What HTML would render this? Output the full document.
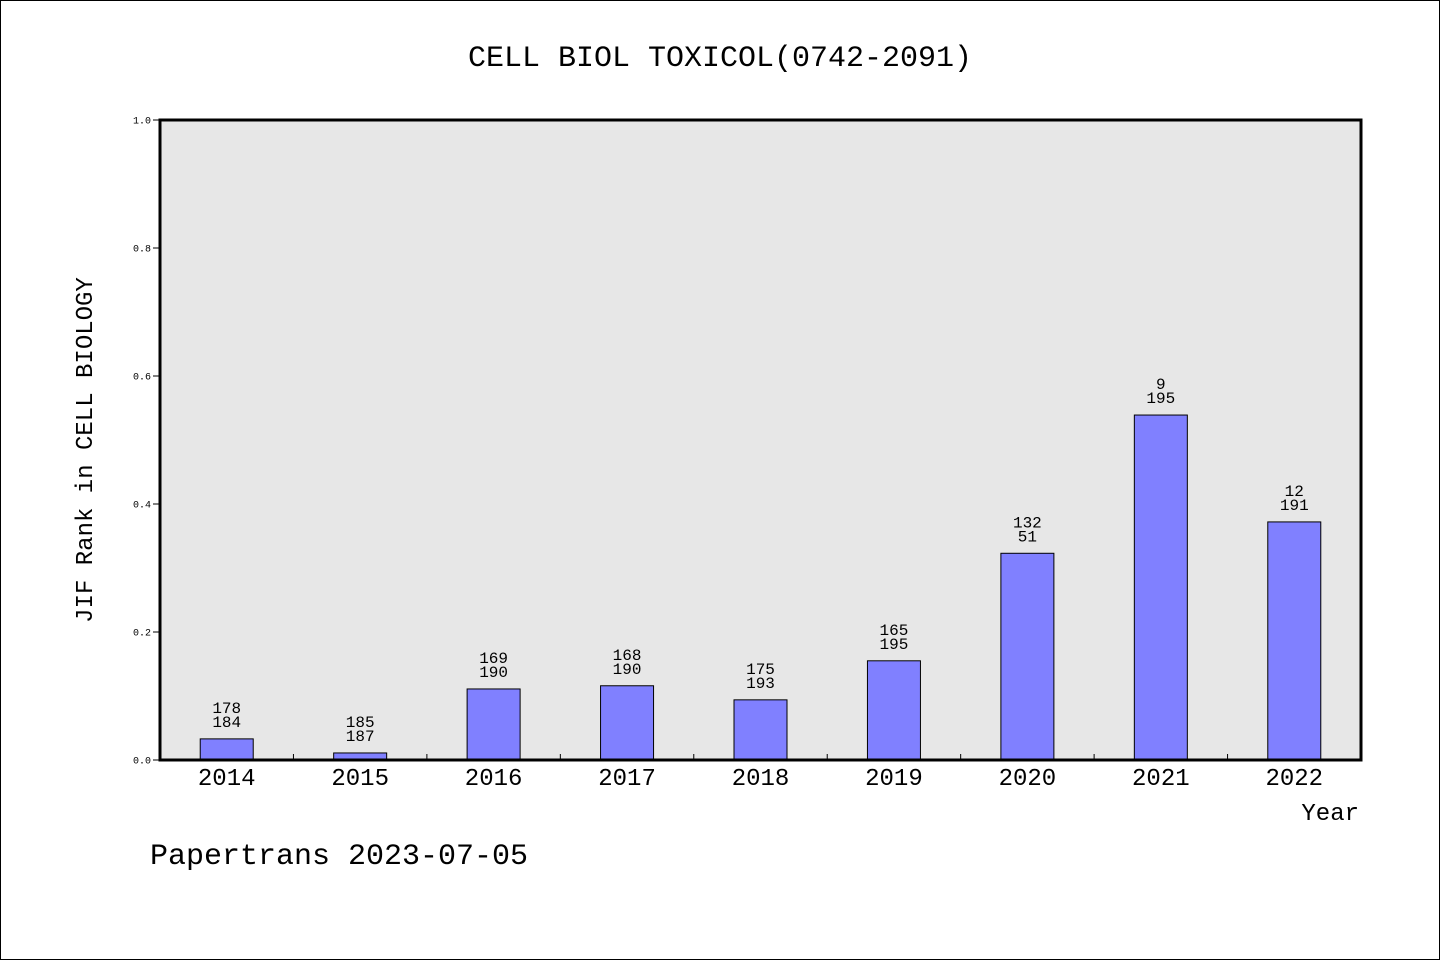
<!DOCTYPE html>
<html><head><meta charset="utf-8"><style>
body{margin:0;background:#fff}
svg text{font-family:"Liberation Mono","WenQuanYi Zen Hei",monospace;fill:#000}
</style></head><body>
<svg width="1440" height="960">
<rect x="0.5" y="0.5" width="1439" height="959" fill="#fff" stroke="#000"/>
<text x="720" y="66" font-size="30" text-anchor="middle">CELL BIOL TOXICOL(0742-2091)</text>
<rect x="160" y="120" width="1201" height="640" fill="#e7e7e7"/>
<g id="bars"></g>
<g id="axes"></g>
<rect x="160" y="120" width="1201" height="640" fill="none" stroke="#000" stroke-width="3"/>
<text x="92" y="450" font-size="24" text-anchor="middle" transform="rotate(-90 92 450)">JIF Rank in CELL BIOLOGY</text>
<text x="1359" y="820" font-size="24" text-anchor="end">Year</text>
<text x="150" y="864" font-size="30">Papertrans 2023-07-05</text>
</svg>
<script>
const years=["2014","2015","2016","2017","2018","2019","2020","2021","2022"];
const values=[0.033,0.011,0.111,0.116,0.094,0.155,0.323,0.539,0.372];
const rankTop=["178","185","169","168","175","165","132","9","12"];
const rankBottom=["184","187","190","190","193","195","51","195","191"];
const yTicks=[0,0.2,0.4,0.6,0.8,1.0];
const X0=160,X1=1361,Y0=760,Y1=120;
const step=(X1-X0)/years.length;
const xC=i=>X0+step*(i+0.5);
const yS=v=>Y0-(Y0-Y1)*v;
const NS="http://www.w3.org/2000/svg";
const bars=document.getElementById('bars'),axes=document.getElementById('axes');
function mk(tag,attrs,parent){const e=document.createElementNS(NS,tag);for(const k in attrs)e.setAttribute(k,attrs[k]);parent.appendChild(e);return e;}
years.forEach((y,i)=>{
 const r=mk('rect',{x:xC(i)-26.5,y:yS(values[i]),width:53,height:Y0-yS(values[i]),fill:'#8080ff',stroke:'#000','stroke-width':1},bars);
 
 
 const t1=mk('text',{x:xC(i),y:yS(values[i])-26,'font-size':16,'text-anchor':'middle'},bars);t1.textContent=rankTop[i];
 
 
 const t2=mk('text',{x:xC(i),y:yS(values[i])-12,'font-size':16,'text-anchor':'middle'},bars);t2.textContent=rankBottom[i];
 
 
 const xl=mk('text',{x:xC(i),y:785,'font-size':24,'text-anchor':'middle'},axes);xl.textContent=y;
 
 
 if(i>0){const tk=mk('line',{x1:X0+step*i,x2:X0+step*i,y1:Y0,y2:Y0-6,stroke:'#000'},axes);
 
 }
});
yTicks.forEach(v=>{
 const tk=mk('line',{x1:X0-7,x2:X0,y1:yS(v),y2:yS(v),stroke:'#000'},axes);
 
 
 const t=mk('text',{x:151,y:yS(v)+3.5,'font-size':10,'text-anchor':'end'},axes);t.textContent=v.toFixed(1);
 
 
});
</script>
</body></html>
